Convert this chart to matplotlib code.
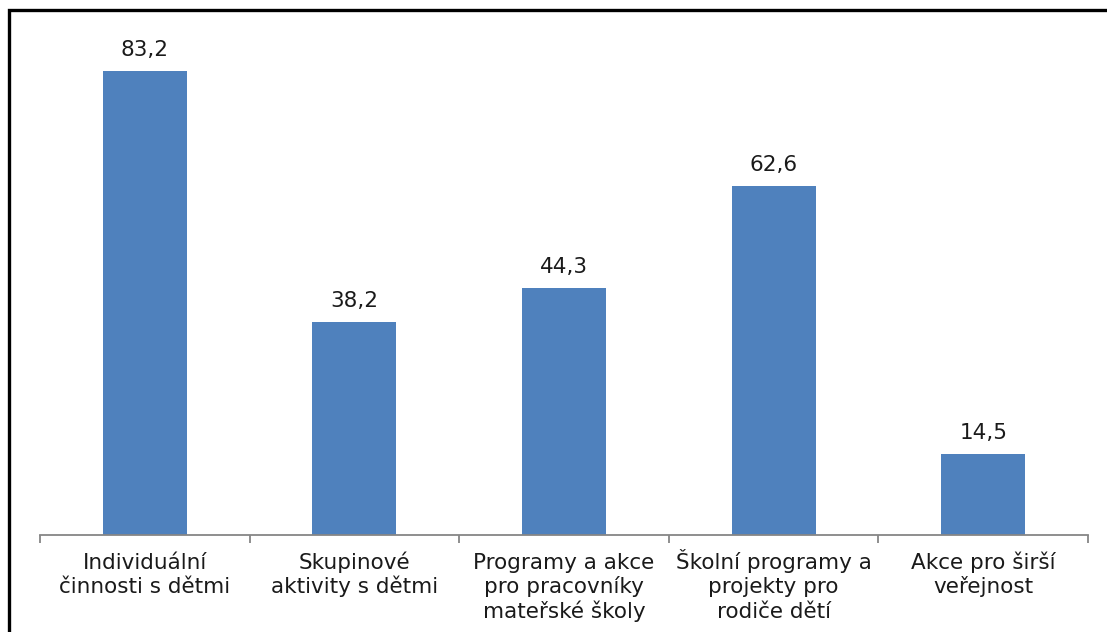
import matplotlib
matplotlib.use("Agg")
import matplotlib.pyplot as plt
from matplotlib.patches import Rectangle

categories = [
    "Individuální\nčinnosti s dětmi",
    "Skupinové\naktivity s dětmi",
    "Programy a akce\npro pracovníky\nmateřské školy",
    "Školní programy a\nprojekty pro\nrodiče dětí",
    "Akce pro širší\nveřejnost",
]
values = [83.2, 38.2, 44.3, 62.6, 14.5]
value_labels = ["83,2", "38,2", "44,3", "62,6", "14,5"]

W, H = 1107, 632
fig = plt.figure(figsize=(W / 100, H / 100), dpi=100)
plt.rcParams["font.family"] = ["DejaVu Sans"]
FS = 15.5

# outer chart frame (runs past the right and bottom edges)
fig.add_artist(Rectangle((9.0 / W, -0.1), 1.2, (H - 10) / H + 0.1,
                         transform=fig.transFigure, fill=False,
                         edgecolor="black", linewidth=2.4))

ax_left, ax_right = 40 / W, 1088 / W
ax_bottom = (H - 535) / H
ymax = 90
ax_top = (H - (535 - ymax * 5.577)) / H
ax = fig.add_axes([ax_left, ax_bottom, ax_right - ax_left, ax_top - ax_bottom])

x = list(range(len(values)))
bars = ax.bar(x, values, width=0.4, color="#4F81BD", zorder=2)
ax.set_xlim(-0.5, len(values) - 0.5)
ax.set_ylim(0, ymax)

for xi, v, lab in zip(x, values, value_labels):
    ax.annotate(lab, (xi, v), xytext=(0, 8), textcoords="offset points",
                ha="center", va="bottom", fontsize=FS, color="#1a1a1a")

for s in ["top", "right", "left"]:
    ax.spines[s].set_visible(False)
ax.spines["bottom"].set_color("#868686")
ax.spines["bottom"].set_linewidth(1.3)
ax.set_yticks([])

# category boundary ticks
ax.set_xticks([i - 0.5 for i in range(len(values) + 1)])
ax.set_xticklabels([])
ax.tick_params(axis="x", length=6, width=1.3, color="#868686", direction="out")

# category names, one baseline per wrapped line so all rows line up
FIRST_BASELINE_PT = 24.8
LINE_PT = 17.3
for xi, c in zip(x, categories):
    for i, line in enumerate(c.split("\n")):
        ax.annotate(line, (xi, 0), xycoords=("data", "axes fraction"),
                    xytext=(0, -FIRST_BASELINE_PT - LINE_PT * i),
                    textcoords="offset points", ha="center", va="baseline",
                    fontsize=FS, color="#1a1a1a")

fig.savefig("out.png", dpi=100)
